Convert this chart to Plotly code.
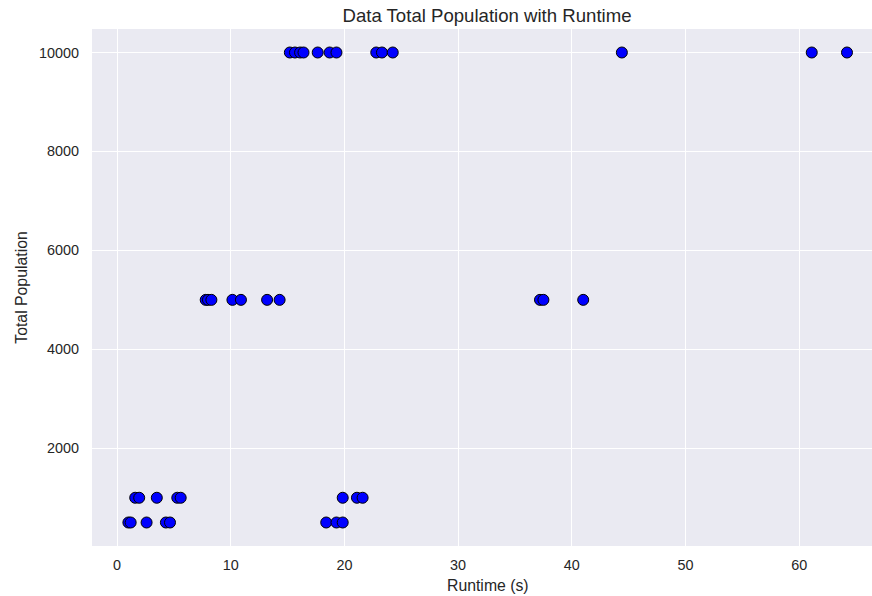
import plotly.graph_objects as go

runtime = [1.0, 1.2, 2.6, 4.3, 4.66, 18.4, 19.3, 19.85,
           1.6, 1.95, 3.5, 5.3, 5.6, 19.85, 21.1, 21.6,
           7.8, 8.0, 8.3, 10.15, 10.9, 13.2, 14.3, 37.2, 37.5, 41.0,
           15.2, 15.65, 16.1, 16.4, 17.65, 18.7, 19.3, 22.8, 23.3, 24.25, 44.4, 61.1, 64.2]
population = [500] * 8 + [1000] * 8 + [5000] * 10 + [10000] * 13

x_ticks = [0, 10, 20, 30, 40, 50, 60]
y_ticks = [2000, 4000, 6000, 8000, 10000]

font_family = "Liberation Sans, Arial, sans-serif"
txt_color = "#262626"

fig = go.Figure(go.Scatter(
    x=runtime, y=population, mode="markers",
    marker=dict(size=11, color="blue", line=dict(color="black", width=1)),
))

W, H = 872, 596
ml, mr, mt, mb = 92, 0, 29, 50
pw, ph = W - ml - mr, H - mt - mb

fig.update_layout(
    width=W, height=H,
    margin=dict(l=ml, r=mr, t=mt, b=mb),
    plot_bgcolor="#EAEAF2", paper_bgcolor="white",
    font=dict(family=font_family, size=14.4, color=txt_color),
    showlegend=False,
    title=dict(text="Data Total Population with Runtime", x=487 / W, xref="container",
               xanchor="center", y=1 - 15.5 / H, yref="container", yanchor="middle",
               font=dict(size=18.6, color=txt_color)),
    annotations=[dict(text="Runtime (s)", xref="paper", yref="paper",
                      x=(488 - ml) / pw, y=-(585 - (H - mb)) / ph,
                      xanchor="center", yanchor="middle", showarrow=False,
                      font=dict(size=15.8, color=txt_color))],
)
fig.update_xaxes(
    range=[-2.2, 66.4], tickvals=x_ticks, ticktext=[str(v) for v in x_ticks],
    tickfont=dict(size=14.4, color=txt_color),
    showgrid=True, gridcolor="white", gridwidth=1, zeroline=False,
    showline=False, ticks="", ticklabelstandoff=9,
)
fig.update_yaxes(
    range=[25, 10475], tickvals=y_ticks, ticktext=[str(v) for v in y_ticks],
    tickfont=dict(size=14.4, color=txt_color),
    showgrid=True, gridcolor="white", gridwidth=1, zeroline=False,
    showline=False, ticks="", ticklabelstandoff=12,
    title=dict(text="Total Population", font=dict(size=15.8, color=txt_color), standoff=7),
)

fig.write_html("out.html")
